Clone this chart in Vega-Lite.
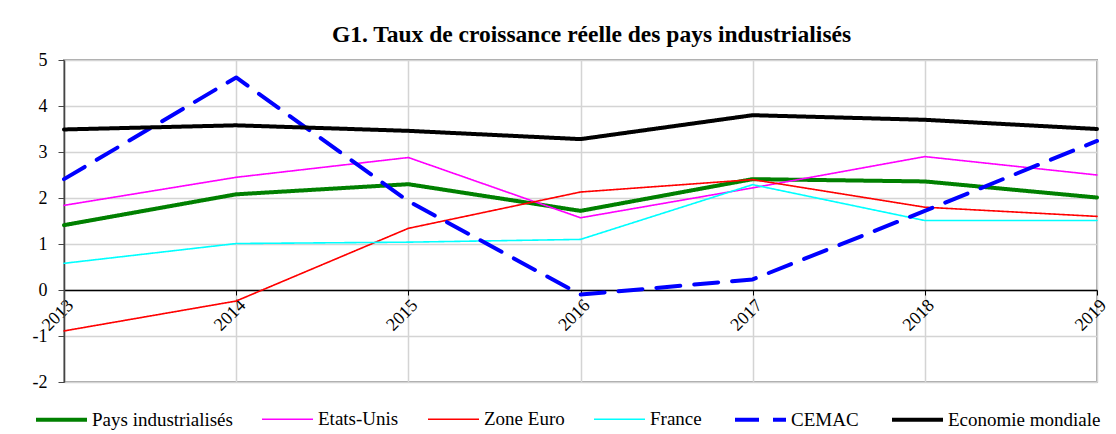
{
  "$schema": "https://vega.github.io/schema/vega-lite/v6.json",
  "width": 1033,
  "height": 322,
  "autosize": {"type": "none"},
  "padding": {"left": 64, "top": 60, "right": 19, "bottom": 52},
  "background": "white",
  "title": {
    "text": "G1. Taux de croissance réelle des pays industrialisés",
    "font": "Liberation Serif",
    "fontSize": 23.5,
    "fontWeight": "bold",
    "color": "black",
    "anchor": "middle",
    "dx": 11,
    "offset": 5
  },
  "config": {
    "font": "Liberation Serif",
    "view": {"stroke": "#a6a6a6", "strokeWidth": 2},
    "axis": {
      "labelFont": "Liberation Serif",
      "labelColor": "black",
      "gridColor": "#d4d4d4",
      "gridWidth": 1.5,
      "title": null
    },
    "legend": {
      "labelFont": "Liberation Serif",
      "labelFontSize": 19,
      "labelColor": "black"
    }
  },
  "data": {
    "values": [
      {"annee": "2013", "serie": "Pays industrialisés", "taux": 1.41},
      {"annee": "2014", "serie": "Pays industrialisés", "taux": 2.08},
      {"annee": "2015", "serie": "Pays industrialisés", "taux": 2.30},
      {"annee": "2016", "serie": "Pays industrialisés", "taux": 1.72},
      {"annee": "2017", "serie": "Pays industrialisés", "taux": 2.41},
      {"annee": "2018", "serie": "Pays industrialisés", "taux": 2.36},
      {"annee": "2019", "serie": "Pays industrialisés", "taux": 2.01},
      {"annee": "2013", "serie": "Etats-Unis", "taux": 1.84},
      {"annee": "2014", "serie": "Etats-Unis", "taux": 2.45},
      {"annee": "2015", "serie": "Etats-Unis", "taux": 2.88},
      {"annee": "2016", "serie": "Etats-Unis", "taux": 1.57},
      {"annee": "2017", "serie": "Etats-Unis", "taux": 2.22},
      {"annee": "2018", "serie": "Etats-Unis", "taux": 2.90},
      {"annee": "2019", "serie": "Etats-Unis", "taux": 2.50},
      {"annee": "2013", "serie": "Zone Euro", "taux": -0.89},
      {"annee": "2014", "serie": "Zone Euro", "taux": -0.24},
      {"annee": "2015", "serie": "Zone Euro", "taux": 1.34},
      {"annee": "2016", "serie": "Zone Euro", "taux": 2.13},
      {"annee": "2017", "serie": "Zone Euro", "taux": 2.40},
      {"annee": "2018", "serie": "Zone Euro", "taux": 1.80},
      {"annee": "2019", "serie": "Zone Euro", "taux": 1.60},
      {"annee": "2013", "serie": "France", "taux": 0.58},
      {"annee": "2014", "serie": "France", "taux": 1.01},
      {"annee": "2015", "serie": "France", "taux": 1.04},
      {"annee": "2016", "serie": "France", "taux": 1.10},
      {"annee": "2017", "serie": "France", "taux": 2.29},
      {"annee": "2018", "serie": "France", "taux": 1.51},
      {"annee": "2019", "serie": "France", "taux": 1.51},
      {"annee": "2013", "serie": "CEMAC", "taux": 2.41},
      {"annee": "2014", "serie": "CEMAC", "taux": 4.62},
      {"annee": "2015", "serie": "CEMAC", "taux": 1.93},
      {"annee": "2016", "serie": "CEMAC", "taux": -0.10},
      {"annee": "2017", "serie": "CEMAC", "taux": 0.23},
      {"annee": "2018", "serie": "CEMAC", "taux": 1.72},
      {"annee": "2019", "serie": "CEMAC", "taux": 3.24},
      {"annee": "2013", "serie": "Economie mondiale", "taux": 3.49},
      {"annee": "2014", "serie": "Economie mondiale", "taux": 3.58},
      {"annee": "2015", "serie": "Economie mondiale", "taux": 3.46},
      {"annee": "2016", "serie": "Economie mondiale", "taux": 3.28},
      {"annee": "2017", "serie": "Economie mondiale", "taux": 3.80},
      {"annee": "2018", "serie": "Economie mondiale", "taux": 3.70},
      {"annee": "2019", "serie": "Economie mondiale", "taux": 3.50}
    ]
  },
  "mark": {"type": "line", "strokeCap": "round", "strokeJoin": "round"},
  "encoding": {
    "x": {
      "field": "annee",
      "type": "ordinal",
      "scale": {"type": "point", "padding": 0},
      "axis": {
        "offset": -92,
        "grid": true,
        "domainColor": "black",
        "domainWidth": 1.5,
        "tickColor": "black",
        "tickSize": 5,
        "labelAngle": -45,
        "labelFont": "Liberation Serif",
        "labelFontSize": 18,
        "labelPadding": 1
      }
    },
    "y": {
      "field": "taux",
      "type": "quantitative",
      "scale": {"domain": [-2, 5], "nice": false, "zero": false},
      "axis": {
        "values": [-2, -1, 0, 1, 2, 3, 4, 5],
        "labelExpr": "replace(datum.label, '\u2212', '-')",
        "grid": true,
        "domainColor": "#444444",
        "domainWidth": 1.5,
        "tickColor": "#444444",
        "tickSize": 6,
        "labelFont": "Liberation Serif",
        "labelFontSize": 18,
        "labelPadding": 11
      }
    },
    "color": {
      "field": "serie",
      "type": "nominal",
      "scale": {
        "domain": ["Pays industrialisés", "Etats-Unis", "Zone Euro", "France", "CEMAC", "Economie mondiale"],
        "range": ["#008000", "#ff00ff", "#ff0000", "#00ffff", "#0000ff", "#000000"]
      },
      "legend": {
        "title": null,
        "orient": "none",
        "legendX": -30,
        "legendY": 332,
        "direction": "horizontal",
        "columns": 6,
        "symbolType": "stroke",
        "symbolSize": 2601,
        "labelFont": "Liberation Serif",
        "labelFontSize": 19,
        "labelColor": "black",
        "labelOffset": 3,
        "columnPadding": 25
      }
    },
    "strokeDash": {
      "field": "serie",
      "type": "nominal",
      "scale": {
        "domain": ["Pays industrialisés", "Etats-Unis", "Zone Euro", "France", "CEMAC", "Economie mondiale"],
        "range": [[1, 0], [1, 0], [1, 0], [1, 0], [24, 14], [1, 0]]
      },
      "legend": null
    },
    "strokeWidth": {
      "field": "serie",
      "type": "nominal",
      "scale": {
        "type": "ordinal",
        "domain": ["Pays industrialisés", "Etats-Unis", "Zone Euro", "France", "CEMAC", "Economie mondiale"],
        "range": [4, 1.6, 1.6, 1.6, 4, 4]
      },
      "legend": null
    }
  }
}
